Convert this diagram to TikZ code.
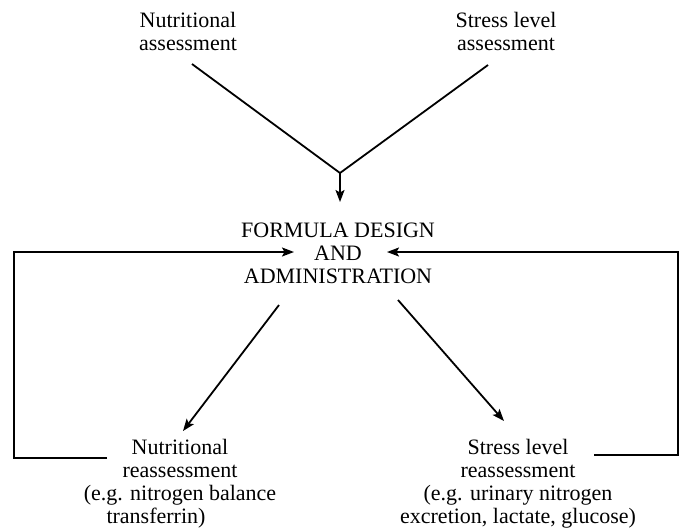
\documentclass[tikz,border=0pt]{standalone}
\usepackage{fontspec}
\setmainfont{Liberation Serif}
\usetikzlibrary{arrows.meta}
\begin{document}
\begin{tikzpicture}[x=1pt,y=-1pt,
  lbl/.style={inner sep=0pt, align=center, font=\fontsize{22}{23}\selectfont},
  ln/.style={line width=1.8pt, black, line join=miter},
  arr/.style={ln, -{Stealth[length=12pt,width=9pt,inset=2.5pt]}}]
\useasboundingbox (0,0) rectangle (684,531);
% text (anchor base = baseline of the last line)
\node[lbl, anchor=base] (na) at (188,50) {Nutritional\\assessment};
\node[lbl, anchor=base] (sa) at (506,50) {Stress level\\assessment};
\node[lbl, anchor=base] (fd) at (338,283) {FORMULA DESIGN\\AND\\ADMINISTRATION};
\node[lbl, anchor=base] (nr) at (180,500) {Nutritional\\reassessment\\(e.g. nitrogen balance};
\node[lbl, anchor=base] (tf) at (156,523) {transferrin)};
\node[lbl, anchor=base] (sr) at (518,523) {Stress level\\reassessment\\(e.g. urinary nitrogen\\excretion, lactate, glucose)};
% points
\coordinate (j) at (340,173);
\coordinate (jt) at (340,202);
\coordinate (nas) at (192,64);
\coordinate (sas) at (488,65);
\coordinate (ll1) at (107,458);
\coordinate (ll2) at (14,458);
\coordinate (ll3) at (14,252);
\coordinate (lt) at (294,252);
\coordinate (rl1) at (594,455);
\coordinate (rl2) at (678,455);
\coordinate (rl3) at (678,252);
\coordinate (rt) at (387,252);
\coordinate (dl1) at (279,305);
\coordinate (dl2) at (183,431);
\coordinate (dr1) at (398,300);
\coordinate (dr2) at (504,421);
% connectors
\draw[ln] (nas) -- (j) -- (sas);
\draw[arr] (j) -- (jt);
\draw[arr] (ll1) -- (ll2) -- (ll3) -- (lt);
\draw[arr] (rl1) -- (rl2) -- (rl3) -- (rt);
\draw[arr] (dl1) -- (dl2);
\draw[arr] (dr1) -- (dr2);
\end{tikzpicture}
\end{document}
